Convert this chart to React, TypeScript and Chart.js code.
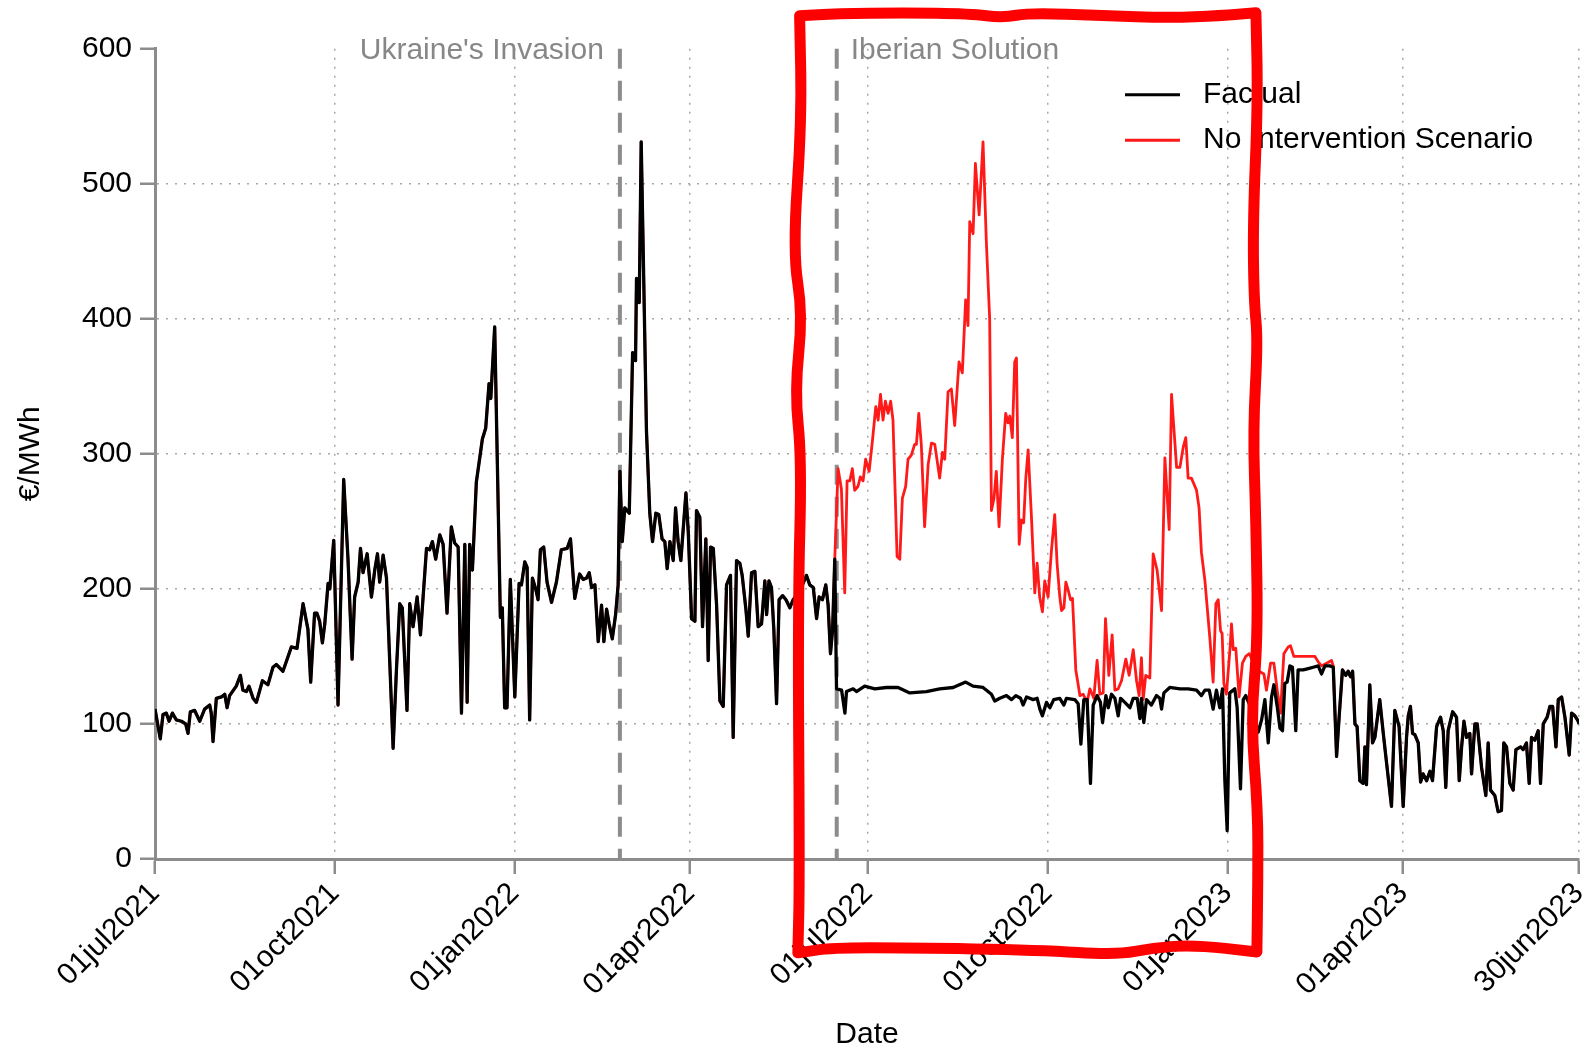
import React, { useEffect, useRef } from "react";
import { Chart, registerables } from "chart.js";

Chart.register(...registerables);

const FONT = "'Liberation Sans', Arial, Helvetica, sans-serif";

// x values are days since 01jul2021
const tickDays = [0, 92, 184, 274, 365, 457, 549, 639, 729];
const tickLabels = ["01jul2021", "01oct2021", "01jan2022", "01apr2022", "01jul2022", "01oct2022", "01jan2023", "01apr2023", "30jun2023"];
const yTickValues = [0, 100, 200, 300, 400, 500, 600];
const seriesNames = ["Factual", "No Intervention Scenario"];
const eventDays = [238, 349];
const eventLabels = ["Ukraine's Invasion", "Iberian Solution"];
const xTitle = "Date";
const yTitle = "€/MWh";

const factualDays = [
  0, 2.7, 4.1, 5.8, 7.2, 8.9, 10.9, 13.5, 15.7, 16.9, 18.1, 20.3, 22.9, 25.4, 28, 28.8, 29.7, 31.4, 34, 35.7, 36.9, 38.2, 41.6, 43.7, 45, 46.8, 48.1, 50.2, 51.9, 55, 57.8, 60.4, 62.1, 65.5, 67.2, 69.8, 72.7, 75.8, 78.3, 79.7, 81.7, 82.9, 84.3, 85.7, 86.9, 88.6,
  89.5, 91.5, 93.7, 96.6, 98.8, 100.9, 102.2, 104, 105.2, 106.5, 108.6, 110.8, 112.5, 113.9, 115, 116.8, 118.5, 121.9, 123.6, 125.3, 126.6, 129, 130.4, 132.1, 134.2, 135.9, 139, 140.6, 142, 143.7, 145.8, 147.5, 149.5, 151.7, 153.4, 155.2, 156.9, 158.6, 159.8, 161.1, 162.5, 164.5, 167.6, 169.3, 171, 171.9, 173.9, 176.8, 177.8, 179, 180.2, 181.9, 184.2, 186.4, 187.6, 189.3, 190.5, 191.8, 193.2, 194.9, 196.1, 197.3, 199, 200.7, 203, 205.5, 208, 211, 212.7, 214.9, 217.4,
  219.2, 220.9, 222.3, 223.5, 225.2, 226.9, 228.6, 229.8, 231.2, 232.5, 234.1, 235.8, 237.1, 238, 239.2, 240.5, 242.8, 244.5, 246, 246.5, 247.9, 248.9, 250.3, 251.6, 253.3, 254.7, 256.4, 257.9, 259.6, 261, 262.2, 263.6, 265.3, 266.5, 267.8, 269.2, 271.8, 273, 274.7, 276.4, 277.2, 278.9, 280.3, 282, 283.2, 284.4, 285.8, 287.5, 289.2, 290.9, 292.6, 294.6, 296, 297.7, 299.4, 300.6, 302.5, 303.7, 305.4, 307.1, 308.8, 310.5, 312.2, 313.1, 314.3, 315.6, 316.8, 318.2, 319.5, 321.3, 323, 325, 326.7, 330, 333.5, 335.2, 337, 338.7, 340, 341.7, 343.4, 344.6, 345.8, 346.9, 348,
  348.9, 351.5, 353.2, 354, 357.4, 359.1, 363.3, 368.5, 374.4, 380.4, 386.4, 394.9, 401.7, 408.6, 415, 418.8, 423.9, 428.2, 429.9, 432.5, 435.9, 438.5, 440.7, 443.1, 444.4, 446.2, 449.6, 451.6, 453, 454.3, 456.4, 458.1, 460.1, 463.2, 465.3, 466.6, 470.9, 472.6, 474, 475.5, 477.2, 478.9, 480.3, 482.3, 484, 485.1, 486.8, 488, 489.7, 491.4, 493.1, 494.3, 496.5, 499.1, 500.8, 502.8, 504.2, 505, 506.2, 507.6, 510.1, 512.7, 514.4, 515.3, 516.5, 519.5, 524.7, 528.9, 533.2, 535.7, 537.5, 539.7, 541.7, 543.4, 545.1, 546.5, 547.7, 548.9, 550.2, 552.8, 554, 555.7, 557.1, 558.4,
  561, 564.8, 566.5, 568.2, 569.9, 571.6, 572.8, 574.5, 575.9, 577.2, 578.4, 579.6, 581, 582.3, 584, 585.2, 587.8, 590.4, 592.9, 595.5, 597.2, 598.9, 601.5, 603.2, 604.9, 606.2, 607.9, 609.6, 610.8, 612, 613.1, 614.3, 615.4, 616.8, 618.5, 619.4, 620.2, 621.9, 623.3, 624.5, 627, 628.8, 630.5, 633, 634.7, 636.9, 639, 640.7, 641.6, 642.7, 643.8, 645, 646.7, 647.9, 649.2, 651, 652.7, 654, 656.1, 658.1, 659.5, 660.8, 662, 664.3, 666.3, 667.7, 668.9, 670.1, 671.4, 673.1, 674, 675.7, 676.9, 679.1, 681.3, 682.5, 683.7, 685.9, 687.6, 689.3, 690.5, 691.9, 693.6, 695.3, 696.7, 699.1, 700.4, 702.1, 703.5, 704.7, 706.4, 708.1, 709.3, 710.7, 712.7, 714.1, 715.5, 717.2, 718.4, 720.1, 721.8, 724, 725.2, 726.9, 728.6, 729,
];
const factualValues = [
  111, 89, 107, 108, 102, 108, 103, 102, 100, 93, 109, 110, 102, 111, 114, 108, 87, 119, 120, 122, 112, 121, 128, 136, 125, 124, 128, 119, 116, 132, 129, 142, 144, 139, 146, 157, 156, 189, 170, 131, 182, 182, 176, 160, 174, 204,
  200, 236, 114, 281, 222, 148, 194, 205, 230, 212, 226, 194, 214, 226, 205, 225, 208, 82, 140, 189, 186, 110, 189, 172, 194, 166, 230, 229, 235, 222, 240, 233, 182, 246, 234, 231, 108, 233, 116, 233, 214, 279, 311, 319, 352, 341, 394, 179, 186, 112, 112, 207, 120, 204, 203, 220, 216, 103, 208, 200, 192, 229, 231, 205, 190, 205, 229, 230, 237, 193, 211,
  207, 208, 212, 201, 203, 161, 188, 161, 185, 174, 163, 181, 203, 287, 235, 260, 256, 375, 369, 430, 412, 531, 421, 317, 256, 235, 256, 255, 237, 235, 215, 235, 221, 260, 235, 221, 271, 242, 178, 176, 258, 253, 172, 237, 147, 231, 230, 188, 117, 113, 203, 210, 90, 221, 219, 210, 185, 165, 212, 213, 172, 174, 206, 181, 206, 201, 170, 115, 192, 195, 192, 186, 192, 198, 210, 203, 201, 178, 194, 192, 203, 188, 152, 170, 222,
  126, 125, 108, 124, 126, 124, 128, 126, 127, 127, 123, 124, 126, 127, 131, 128, 127, 122, 117, 119, 121, 118, 121, 119, 114, 120, 118, 119, 111, 106, 116, 112, 118, 119, 114, 119, 118, 115, 85, 118, 118, 56, 114, 121, 116, 101, 121, 112, 122, 119, 106, 119, 116, 112, 119, 119, 104, 119, 101, 118, 114, 121, 119, 111, 123, 127, 126, 126, 125, 121, 125, 125, 111, 125, 112, 126, 58, 21, 123, 126, 112, 52, 118, 121,
  112, 94, 103, 118, 86, 120, 129, 113, 97, 95, 130, 131, 143, 142, 95, 140, 140, 141, 142, 143, 137, 143, 143, 142, 76, 105, 140, 136, 139, 135, 139, 100, 98, 58, 56, 83, 55, 129, 86, 90, 118, 93, 71, 39, 110, 98, 39, 90, 106, 113, 93, 92, 86, 57, 63, 58, 65, 58, 98, 105, 95, 53, 95, 109, 105, 58, 83, 102, 90, 93, 63, 100, 100, 68, 47, 86, 51, 47, 35, 36, 86, 83, 56, 51, 81, 83, 81, 86, 56, 90, 88, 95, 56, 100, 105, 113, 113, 83, 118, 120, 105, 77, 108, 106, 102, 100,
];

const scenarioDays = [
  348, 349.7, 351.4, 353.1, 354.3, 355.7, 357, 358.2, 359.9, 361.1, 362.5, 363.8, 365.6, 367.3, 369, 370.2, 371.4, 372.7, 373.9, 375.3, 376.6, 377.8, 379.9, 381.3, 382.6, 384.3, 385.5, 387.2, 388.9, 389.8, 391, 392.3, 394, 395.8, 397.5, 399.2, 401.7, 403.1, 404.3, 406, 407.7, 409.4, 411.6, 413.3, 415, 416.2, 417.1, 418.8, 420, 421.9, 423.9, 425.6, 427.3, 428.2, 429.5, 430.7, 432.1, 433.8, 435.5, 436.7, 437.6, 438.9, 440.1, 441, 442.4, 443.5, 444.7, 445.8, 447, 448.7, 450.4, 451.6, 452.9, 454.3, 455.5, 457.2, 458.9, 460.6, 461.8, 463.2,
  464.1, 465.3, 466.3, 467.5, 468.7, 469.7, 471.4, 473.5, 475.2, 477.2, 478.6, 480.6, 482.3, 483.7, 485.4, 486.6, 488.3, 490, 491.4, 493.1, 494.8, 497, 498.7, 500.8, 502.5, 503.8, 505, 505.9, 507.2, 509.3, 511, 513, 515.3, 517, 519.2, 520.4, 523, 524.7, 526.4, 527.7, 528.9, 530.6, 533.2, 534.5, 535.7,
  537.5, 540, 541.7, 543.1, 544.3, 545.5, 546.3, 547.2, 548.5, 550.3, 551.1, 552, 553.3, 555, 556.7, 558.4, 560.2, 564, 567.7, 569, 571.1, 572.8, 574.5, 576.2, 577.9, 580.1, 581.3, 583, 584.7, 587, 589.5, 592.1, 593.8, 595.5, 597.2, 599.8, 602.3, 603.2,
];
const scenarioValues = [
  222, 289, 274, 197, 280, 280, 289, 273, 276, 283, 280, 296, 287, 310, 335, 325, 344, 325, 339, 330, 339, 325, 224, 222, 267, 276, 296, 299, 307, 307, 330, 307, 246, 292, 308, 307, 282, 301, 296, 346, 348, 321, 368, 360, 414, 395, 472, 463, 515, 477, 531, 457, 400, 258, 267, 287, 246, 296, 330, 323, 328, 312, 368, 371, 233, 251, 249, 282, 303, 253, 197, 219, 194, 183, 206, 194, 228, 255, 219, 194,
  184, 186, 205, 199, 192, 193, 140, 121, 122, 116, 126, 119, 147, 122, 123, 178, 136, 166, 125, 126, 132, 148, 136, 155, 132, 121, 149, 118, 136, 134, 226, 214, 184, 297, 244, 344, 290, 290, 305, 312, 282, 282, 273, 260, 227,
  206, 164, 131, 189, 192, 169, 167, 130, 122, 155, 174, 155, 156, 120, 145, 150, 152, 140, 137, 125, 145, 145, 125, 108, 152, 157, 158, 150, 150, 150, 150, 150, 150, 146, 143, 145, 147, 143,
];

// hand-drawn highlight frame, in axis units (day, €/MWh)
const frameDays = [330, 330, 349.1, 382.8, 417.1, 434.1, 447.9, 485.3, 519.6, 545.2, 563.6, 563.6, 564.6, 562.1, 562.6, 564.6, 562.1, 563.6, 564.6, 561, 564.6, 564.6, 564.1, 564.1, 531.9, 510.9, 492.5, 452.5, 385.9, 346.5, 329.1, 329.1, 330, 329.1, 331.1, 327.5, 331.6, 326.5, 331.1];
const frameValues = [624.4, 624.4, 625.9, 626.6, 625.9, 622.9, 626.6, 624.4, 622.9, 624.4, 626.6, 626.6, 561.5, 472.7, 413.6, 384, 317.4, 250.8, 162, 102.8, 36.3, -15.5, -68.8, -68.8, -63.6, -65.8, -71, -67.3, -65.8, -65.8, -69.5, -69.5, -15.5, 187.9, 295.9, 346.2, 403.2, 449.8, 546.7];

const overlayPlugin = {
  id: "overlay",
  beforeDatasetsDraw(chart: any) {
    const { ctx, scales } = chart;
    const x = scales.x, y = scales.y;
    ctx.save();
    ctx.strokeStyle = "#8c8c8c";
    ctx.lineWidth = 4;
    ctx.setLineDash([20, 12]);
    eventDays.forEach((d) => {
      const px = x.getPixelForValue(d);
      ctx.beginPath();
      ctx.moveTo(px, y.getPixelForValue(600));
      ctx.lineTo(px, y.getPixelForValue(0));
      ctx.stroke();
    });
    ctx.restore();
  },
  afterDraw(chart: any) {
    const { ctx, scales, chartArea } = chart;
    const x = scales.x, y = scales.y;
    ctx.save();
    // event labels
    ctx.font = `30px ${FONT}`;
    ctx.fillStyle = "#878787";
    ctx.textBaseline = "middle";
    const ty = y.getPixelForValue(600) + 2;
    ctx.textAlign = "right";
    ctx.fillText(eventLabels[0], x.getPixelForValue(eventDays[0]) - 16, ty);
    ctx.textAlign = "left";
    ctx.fillText(eventLabels[1], x.getPixelForValue(eventDays[1]) + 14, ty);

    // legend
    const lx = chartArea.right - 454;
    const colors = ["#000000", "#ff1a1a"];
    seriesNames.forEach((name, i) => {
      const ly = chartArea.top + 46 + i * 45.5;
      ctx.strokeStyle = colors[i];
      ctx.lineWidth = 3;
      ctx.setLineDash([]);
      ctx.beginPath();
      ctx.moveTo(lx, ly);
      ctx.lineTo(lx + 55, ly);
      ctx.stroke();
      ctx.fillStyle = "#000";
      ctx.textAlign = "left";
      ctx.fillText(name, lx + 78, ly);
    });

    // hand-drawn red frame
    const pts = frameDays.map((d, i) => ({ x: x.getPixelForValue(d), y: y.getPixelForValue(frameValues[i]) }));
    const n = pts.length;
    const mid = (a: any, b: any) => ({ x: (a.x + b.x) / 2, y: (a.y + b.y) / 2 });
    ctx.strokeStyle = "#ff0000";
    ctx.lineWidth = 11;
    ctx.lineJoin = "round";
    ctx.lineCap = "round";
    ctx.beginPath();
    const m0 = mid(pts[n - 1], pts[0]);
    ctx.moveTo(m0.x, m0.y);
    for (let i = 0; i < n; i++) {
      const p = pts[i];
      const q = pts[(i + 1) % n];
      const m = mid(p, q);
      ctx.quadraticCurveTo(p.x, p.y, m.x, m.y);
    }
    ctx.closePath();
    ctx.stroke();
    ctx.restore();
  },
};

export default function App() {
  const ref = useRef<HTMLCanvasElement>(null);

  useEffect(() => {
    const canvas = ref.current;
    if (!canvas) return;
    const factualPts = factualDays.map((d, i) => ({ x: d, y: factualValues[i] }));
    const s0 = scenarioDays[0];
    const s1 = scenarioDays[scenarioDays.length - 1];
    const scenarioPts = [
      ...factualPts.filter((p) => p.x < s0),
      ...scenarioDays.map((d, i) => ({ x: d, y: scenarioValues[i] })),
      ...factualPts.filter((p) => p.x > s1),
    ];
    const transparent = "rgba(0,0,0,0)";
    const chart = new Chart(canvas, {
      type: "line",
      data: {
        datasets: [
          { label: seriesNames[0], data: factualPts, borderColor: "#000000", borderWidth: 3.3, pointRadius: 0, tension: 0, fill: false, borderJoinStyle: "round" },
          { label: seriesNames[1], data: scenarioPts, borderColor: "#ff1a1a", borderWidth: 2.8, pointRadius: 0, tension: 0, fill: false, borderJoinStyle: "round" },
        ],
      },
      options: {
        animation: false,
        responsive: false,
        devicePixelRatio: 1,
        events: [],
        layout: { padding: { left: 0, right: 13, top: 48.7, bottom: 0 } },
        plugins: { legend: { display: false }, tooltip: { enabled: false } },
        scales: {
          x: {
            type: "linear",
            min: 0,
            max: 729,
            afterBuildTicks: (axis: any) => {
              axis.ticks = tickDays.map((v) => ({ value: v }));
            },
            afterFit: (axis: any) => {
              axis.height = 193;
              axis.paddingLeft = 0;
              axis.paddingRight = 0;
            },
            ticks: {
              autoSkip: false,
              minRotation: 45,
              maxRotation: 45,
              padding: 2,
              color: "#000",
              font: { family: FONT, size: 30 },
              callback: (v: any) => {
                const k = tickDays.indexOf(Number(v));
                return k >= 0 ? tickLabels[k] : "";
              },
            },
            grid: {
              color: (c: any) => (c.tick && c.tick.value === 0 ? transparent : "#a8a8a8"),
              lineWidth: 1.5,
              tickLength: 15,
              tickColor: "#8c8c8c",
              tickWidth: 2.5,
            },
            border: { display: true, color: "#8c8c8c", width: 3, dash: [2, 7] },
            title: {
              display: true,
              text: xTitle,
              color: "#000",
              font: { family: FONT, size: 30, lineHeight: 1 },
              padding: { top: 0, bottom: 2 },
            },
          },
          y: {
            type: "linear",
            min: yTickValues[0],
            max: yTickValues[yTickValues.length - 1],
            afterBuildTicks: (axis: any) => {
              axis.ticks = yTickValues.map((v) => ({ value: v }));
            },
            afterFit: (axis: any) => {
              axis.width = 155;
            },
            ticks: {
              padding: 8,
              color: "#000",
              font: { family: FONT, size: 30 },
            },
            grid: {
              color: (c: any) => (c.tick && (c.tick.value === 0 || c.tick.value === 600) ? transparent : "#a8a8a8"),
              lineWidth: 1.5,
              tickLength: 15,
              tickColor: "#8c8c8c",
              tickWidth: 2.5,
            },
            border: { display: true, color: "#8c8c8c", width: 3, dash: [2, 7] },
            title: {
              display: true,
              text: yTitle,
              color: "#000",
              font: { family: FONT, size: 30, lineHeight: 1 },
              padding: { top: 16, bottom: 0 },
            },
          },
        },
      },
      plugins: [overlayPlugin],
    } as any);
    return () => chart.destroy();
  }, []);

  return (
    <div style={{ position: "fixed", left: 0, top: 0, width: 1592, height: 1052, background: "#fff" }}>
      <canvas ref={ref} width={1592} height={1052} style={{ width: 1592, height: 1052, display: "block" }} />
    </div>
  );
}
